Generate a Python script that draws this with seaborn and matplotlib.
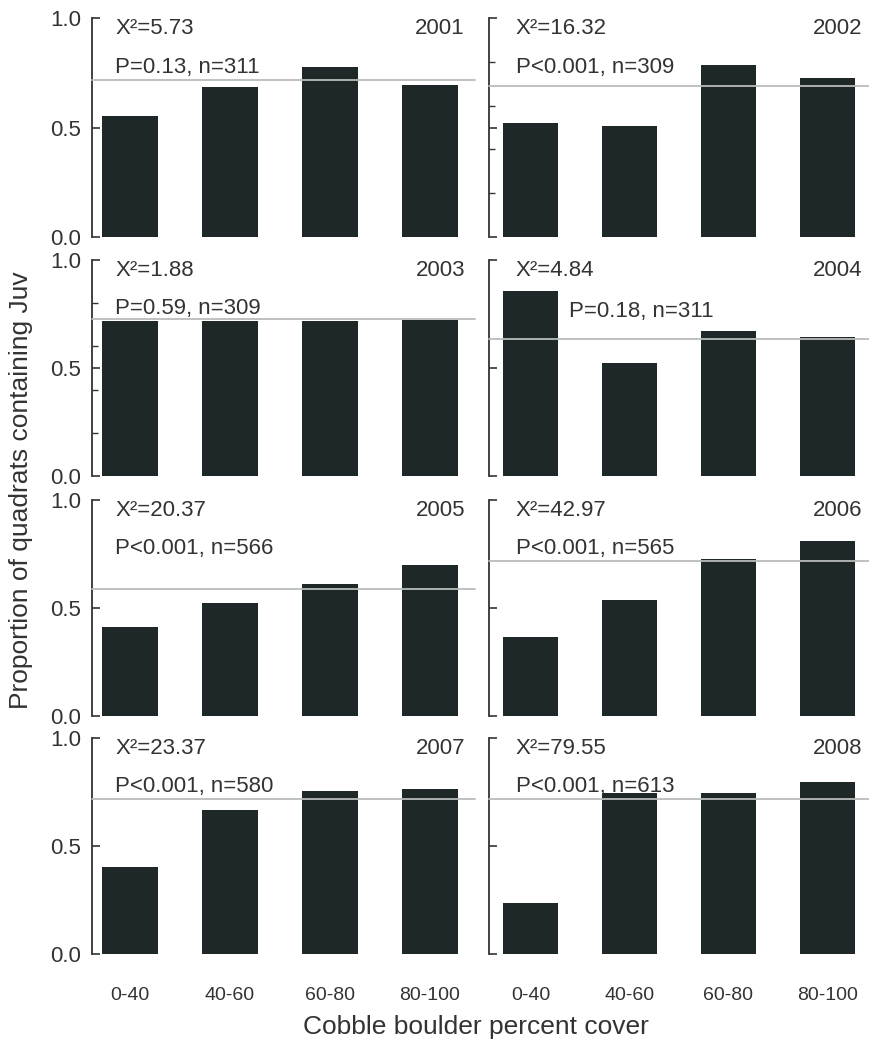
import matplotlib
matplotlib.use("Agg")
import matplotlib.pyplot as plt
import seaborn as sns
import pandas as pd

sns.set_style("white")
plt.rcParams["font.family"] = ["Liberation Sans", "DejaVu Sans"]

# Cobble/boulder cover classes
cover_classes = ["0-40", "40-60", "60-80", "80-100"]
years = ["2001", "2002", "2003", "2004", "2005", "2006", "2007", "2008"]

# Proportion of quadrats containing juveniles, per cover class
prop_2001 = [0.554, 0.686, 0.775, 0.694]
prop_2002 = [0.522, 0.507, 0.784, 0.727]
prop_2003 = [0.719, 0.719, 0.717, 0.722]
prop_2004 = [0.858, 0.525, 0.673, 0.645]
prop_2005 = [0.413, 0.525, 0.610, 0.698]
prop_2006 = [0.364, 0.537, 0.725, 0.810]
prop_2007 = [0.404, 0.667, 0.755, 0.762]
prop_2008 = [0.238, 0.746, 0.746, 0.795]

# Overall proportion for each year (horizontal reference line)
overall = [0.717, 0.691, 0.727, 0.634, 0.588, 0.719, 0.718, 0.718]

# Chi-square test results
chi_sq = ["5.73", "16.32", "1.88", "4.84", "20.37", "42.97", "23.37", "79.55"]
p_vals = ["P=0.13", "P<0.001", "P=0.59", "P=0.18", "P<0.001", "P<0.001", "P<0.001", "P<0.001"]
n_vals = [311, 309, 309, 311, 566, 565, 580, 613]

props = [prop_2001, prop_2002, prop_2003, prop_2004,
         prop_2005, prop_2006, prop_2007, prop_2008]

BAR = "#1f2828"
INK = "#333333"
REF = "#b9bcba"

fig = plt.figure(figsize=(8.69, 10.44), dpi=100)

row_bottoms = [1 - 237 / 1044, 1 - 476 / 1044, 1 - 716 / 1044, 1 - 954 / 1044]
row_heights = [219 / 1044, 216 / 1044, 216 / 1044, 216 / 1044]
col_lefts = [92 / 869, 489 / 869]
col_widths = [383 / 869, 380 / 869]
col_xlims = [(-0.38, 3.45), (-0.42, 3.42)]

for i, year in enumerate(years):
    row, col = divmod(i, 2)
    ax = fig.add_axes([col_lefts[col], row_bottoms[row], col_widths[col], row_heights[row]])
    df = pd.DataFrame({"cover": cover_classes, "prop": props[i]})
    sns.barplot(data=df, x="cover", y="prop", ax=ax, color=BAR, saturation=1,
                width=0.56, order=cover_classes, edgecolor="none")
    ax.axhline(overall[i], color=REF, lw=1.3, zorder=5, clip_on=False)

    ax.set_xlim(*col_xlims[col])
    ax.set_ylim(0, 1.0)
    ax.set_xlabel("")
    ax.set_ylabel("")

    for s in ["top", "right", "bottom"]:
        ax.spines[s].set_visible(False)
    ax.spines["left"].set_color(INK)
    ax.spines["left"].set_linewidth(1.3)
    ax.spines["left"].set_bounds(0, 1)

    ax.set_yticks([0, 0.5, 1.0])
    ax.tick_params(axis="y", which="both", left=True, direction="in", length=6,
                   width=1.2, color=INK, labelsize=16, labelcolor=INK, pad=8)
    if year in ("2002", "2003"):
        ax.set_yticks([0.2, 0.4, 0.6, 0.8], minor=True)
        ax.tick_params(axis="y", which="minor", left=True, direction="in",
                       length=4, width=1.0, color=INK)
    if col == 0:
        ax.set_yticklabels(["0.0", "0.5", "1.0"])
    else:
        ax.set_yticklabels([])

    ax.tick_params(axis="x", bottom=False, length=0, pad=24, labelsize=14,
                   labelcolor=INK)
    if row < 3:
        ax.set_xticklabels([])

    x0 = -0.15
    ax.text(x0, 0.95, f"X\u00b2={chi_sq[i]}", fontsize=16, color=INK,
            ha="left", va="center", zorder=6)
    p_x = 0.39 if year == "2004" else x0
    p_y = 0.76 if year == "2004" else 0.775
    ax.text(p_x, p_y, f"{p_vals[i]}, n={n_vals[i]}", fontsize=16, color=INK,
            ha="left", va="center", zorder=6)
    ax.text(3.35, 0.95, year, fontsize=16, color=INK, ha="right", va="center",
            zorder=6)

fig.text(0.548, 1 - 1027 / 1044, "Cobble boulder percent cover", fontsize=19,
         color=INK, ha="center", va="center")
fig.text(0.024, 1 - 490 / 1044, "Proportion of quadrats containing Juv",
         fontsize=19, color=INK, ha="center", va="center", rotation=90)

fig.savefig("out.png", dpi=100, facecolor="white")
